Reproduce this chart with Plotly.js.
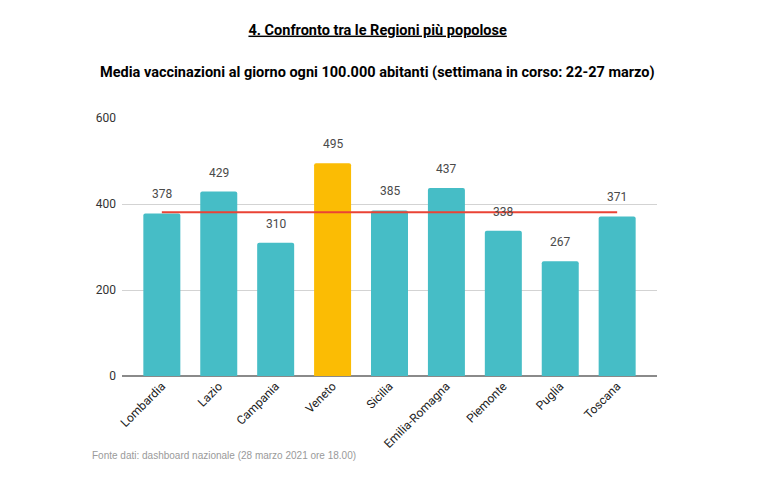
<!DOCTYPE html>
<html><head><meta charset="utf-8">
<script src="https://cdn.plot.ly/plotly-3.0.1.min.js"></script>
<style>body{margin:0;background:#fff}#chart{width:766px;height:492px}</style>
</head><body><div id="chart"></div>
<script>
const regioni = ["Lombardia","Lazio","Campania","Veneto","Sicilia","Emilia-Romagna","Piemonte","Puglia","Toscana"];
const valori = [378,429,310,495,385,437,338,267,371];
const media = [381,381,381,381,381,381,381,381,381];
const evidenziata = "Veneto";

const colori = regioni.map(r => r === evidenziata ? "#FBBC04" : "#46BDC6");

const bars = {
  type: "bar", x: regioni, y: valori,
  marker: {color: colori, cornerradius: 2},
  hoverinfo: "x+y", showlegend: false
};
const line = {
  type: "scatter", mode: "lines", x: regioni, y: media,
  line: {color: "#EA4335", width: 2}, showlegend: false, hoverinfo: "skip"
};
const annotations = regioni.map((r, i) => ({
  x: r, y: valori[i], xref: "x", yref: "y", text: String(valori[i]),
  showarrow: false, yanchor: "bottom", yshift: 10,
  font: {family: "Roboto, Arial, sans-serif", size: 12, color: "#4a4a4a"}
}));
annotations.push({
  xref: "paper", yref: "paper", x: -0.06, y: -0.31, xanchor: "left", yanchor: "middle",
  showarrow: false, text: "Fonte dati: dashboard nazionale (28 marzo 2021 ore 18.00)",
  font: {family: "Arial, Liberation Sans, sans-serif", size: 10, color: "#9a9a9a"}
});
annotations.push({
  xref: "paper", yref: "paper", x: 0.4776, y: 1.178, xanchor: "center", yanchor: "middle",
  showarrow: false, text: "<b>Media vaccinazioni al giorno ogni 100.000 abitanti (settimana in corso: 22-27 marzo)</b>",
  font: {family: "Roboto, Arial, sans-serif", size: 14.5, color: "#000"}
});

const layout = {
  width: 766, height: 492,
  margin: {l: 122, r: 109, t: 118, b: 116},
  paper_bgcolor: "#fff", plot_bgcolor: "#fff",
  title: {text: "<b><u>4. Confronto tra le Regioni più popolose</u></b>", x: 0.493, xanchor: "center", y: 0.94, yanchor: "middle",
    font: {family: "Roboto, Arial, sans-serif", size: 14.5, color: "#000"}},
  bargap: 0.35,
  xaxis: {
    type: "category", range: [-0.7, 8.7], tickangle: -45, showgrid: false, zeroline: false,
    showline: false, ticks: "",
    tickfont: {family: "Roboto, Arial, sans-serif", size: 12, color: "#222"}
  },
  yaxis: {
    range: [0, 600], tickvals: [0, 200, 400, 600], showgrid: true, gridcolor: "#d3d3d3",
    gridwidth: 1, zeroline: true, zerolinecolor: "#8a8a8a", zerolinewidth: 2,
    ticks: "", ticklabelstandoff: 5,
    tickfont: {family: "Roboto, Arial, sans-serif", size: 12, color: "#333"}
  },
  annotations: annotations
};
Plotly.newPlot("chart", [bars, line], layout, {displayModeBar: false, staticPlot: true});
</script></body></html>
